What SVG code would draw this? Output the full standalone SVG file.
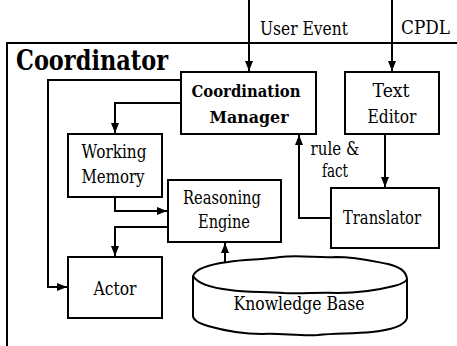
<svg xmlns="http://www.w3.org/2000/svg" width="457" height="346" viewBox="0 0 457 346">
<style>
.box{fill:#fff;stroke:#000;stroke-width:2}
.ln{fill:none;stroke:#000;stroke-width:2}
.t{font-family:"DejaVu Serif","Noto Serif",serif;font-size:18px;fill:#000;text-anchor:middle}
.s{text-anchor:start}
.b{font-weight:bold;font-size:17px}
</style>
<defs>
<marker id="ah" markerUnits="userSpaceOnUse" markerWidth="11" markerHeight="9" refX="10" refY="4" orient="auto">
<path d="M0,0 L10,4 L0,8 z" fill="#000"/>
</marker>
</defs>
<rect width="457" height="346" fill="#fff"/>
<g id="frame">
<path class="ln" d="M457,43 H7 V346"/>
<text class="t s" x="16" y="70" style="font-size:28px;font-weight:bold" textLength="152" lengthAdjust="spacingAndGlyphs">Coordinator</text>
</g>
<g id="connectors">
<path class="ln" d="M249,0 V71" marker-end="url(#ah)"/>
<path class="ln" d="M392,0 V71" marker-end="url(#ah)"/>
<path class="ln" d="M385,134 V187" marker-end="url(#ah)"/>
<path class="ln" d="M331,218 H299 V135" marker-end="url(#ah)"/>
<path class="ln" d="M181,103 H115 V133" marker-end="url(#ah)"/>
<path class="ln" d="M181,80 H48 V287 H67" marker-end="url(#ah)"/>
<path class="ln" d="M115,197 V211 H167" marker-end="url(#ah)"/>
<path class="ln" d="M168,227 H115 V256" marker-end="url(#ah)"/>
<path class="ln" d="M225,281 V243" marker-end="url(#ah)"/>
<text class="t s" x="260" y="35" textLength="88" lengthAdjust="spacingAndGlyphs">User Event</text>
<text class="t s" x="401" y="34" textLength="49" lengthAdjust="spacingAndGlyphs">CPDL</text>
<text class="t" x="335" y="155" textLength="49" lengthAdjust="spacingAndGlyphs">rule &amp;</text>
<text class="t" x="335" y="177" textLength="26" lengthAdjust="spacingAndGlyphs">fact</text>
</g>
<g id="coordination-manager">
<rect class="box" x="181" y="72" width="135" height="62"/>
<text class="t b" x="246" y="97" textLength="109" lengthAdjust="spacingAndGlyphs">Coordination</text>
<text class="t b" x="249" y="123" textLength="79" lengthAdjust="spacingAndGlyphs">Manager</text>
</g>
<g id="text-editor">
<rect class="box" x="345" y="72" width="94" height="62"/>
<text class="t" x="391" y="97" textLength="37" lengthAdjust="spacingAndGlyphs">Text</text>
<text class="t" x="392" y="123" textLength="49" lengthAdjust="spacingAndGlyphs">Editor</text>
</g>
<g id="translator">
<rect class="box" x="331" y="188" width="108" height="60"/>
<text class="t" x="382" y="224" textLength="78" lengthAdjust="spacingAndGlyphs">Translator</text>
</g>
<g id="working-memory">
<rect class="box" x="68" y="134" width="94" height="63"/>
<text class="t" x="114" y="158" textLength="65" lengthAdjust="spacingAndGlyphs">Working</text>
<text class="t" x="113" y="183" textLength="63" lengthAdjust="spacingAndGlyphs">Memory</text>
</g>
<g id="reasoning-engine">
<rect class="box" x="168" y="180" width="113" height="62"/>
<text class="t" x="222" y="204" textLength="78" lengthAdjust="spacingAndGlyphs">Reasoning</text>
<text class="t" x="224" y="228" textLength="52" lengthAdjust="spacingAndGlyphs">Engine</text>
</g>
<g id="actor">
<rect class="box" x="68" y="257" width="94" height="61"/>
<text class="t" x="115" y="295" textLength="43" lengthAdjust="spacingAndGlyphs">Actor</text>
</g>
<g id="knowledge-base">
<path fill="#fff" stroke="none" d="M193,276 C195,266 240,257 300,257 C360,257 407,264 407,278 L407,318 C405,330 360,335 300,335 C240,335 196,326 193,316 Z"/>
<path class="ln" d="M193,276 C196,268 212,264 228,262 C245,259 262,260 280,257 C300,255 318,258 336,257 C356,257 372,261 388,264 C400,267 406,271 407,279 L407,318 C405,326 390,330 372,332 C352,334 336,333 318,335 C298,336 280,333 262,334 C242,334 222,330 208,326 C198,323 193,320 193,316 Z"/>
<path class="ln" d="M193,276 C198,284 212,288 230,290 C248,293 266,291 284,293 C302,294 320,292 338,293 C358,293 378,290 394,286 C402,284 406,282 407,279"/>
<text class="t" x="299" y="310" textLength="131" lengthAdjust="spacingAndGlyphs">Knowledge Base</text>
</g>
</svg>
